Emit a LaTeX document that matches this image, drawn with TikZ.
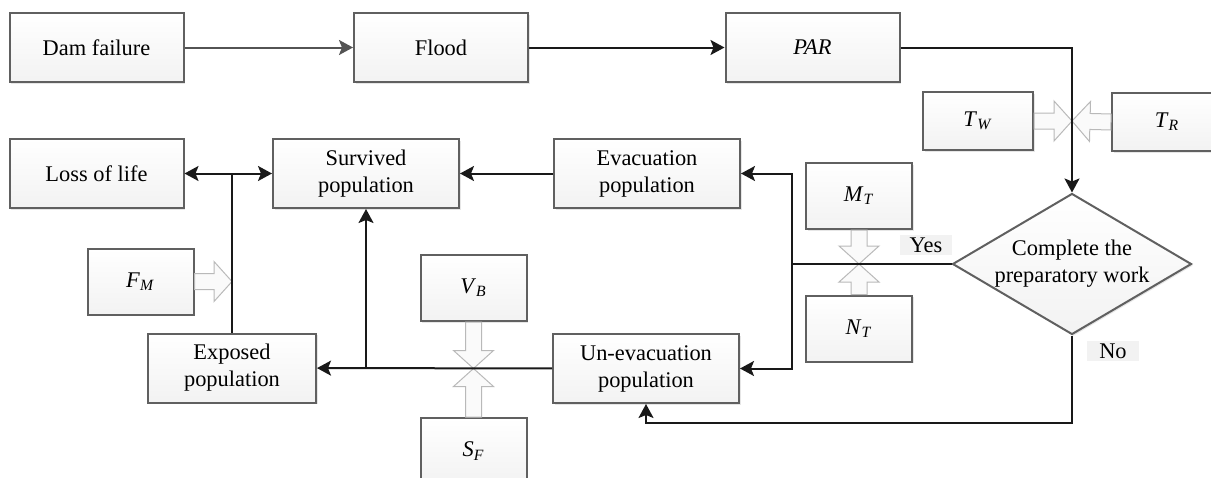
\documentclass[tikz,border=0pt]{standalone}
\usepackage{fontspec}
\setmainfont{Liberation Serif}
\usetikzlibrary{arrows.meta,shapes.geometric,shadows,calc}

\def\sym#1#2{\textit{#1}\textsubscript{\textit{#2}}}

\tikzset{
  box/.style={draw=gray!75!black, line width=1pt, top color=white, bottom color=gray!10,
    drop shadow={shadow xshift=0.8pt,shadow yshift=-0.8pt,opacity=0.2},
    align=center, inner sep=2pt, minimum width=87pt, minimum height=34.5pt,
    font=\fontsize{11.2}{13.5}\selectfont},
  widebox/.style={box, minimum width=93pt},
  smallbox/.style={box, minimum width=53pt, minimum height=33pt},
  decision/.style={box, diamond, aspect=1.7, inner sep=0pt,
    minimum width=239pt/2, minimum height=141pt/2},
  tag/.style={fill=gray!10, inner sep=1.5pt, minimum width=26pt, minimum height=10pt,
    font=\fontsize{11.2}{13.5}\selectfont},
  line/.style={line width=1pt, draw=black!90},
  link/.style={line, -{Stealth[length=7pt,width=7.5pt,inset=1.5pt]}},
  hollow/.style={draw=gray!55, fill=gray!4, line width=0.5pt, line join=miter}
}

% fat outlined arrow from #1 to #2
\newcommand{\hollowarrow}[2]{%
  \draw[hollow] let \p1=(#1), \p2=(#2), \n1={atan2(\y2-\y1,\x2-\x1)},
    \n2={veclen(\x2-\x1,\y2-\y1)}, \n3={\n2-9pt} in
    [shift={(\p1)}, rotate=\n1]
    (0pt,-4pt) -- (\n3,-4pt) -- (\n3,-10pt) -- (\n2,0pt)
    -- (\n3,10pt) -- (\n3,4pt) -- (0pt,4pt) -- cycle;}

\begin{document}
\begin{tikzpicture}[x=0.5pt,y=-0.5pt]
\useasboundingbox (0,0) rectangle (1211,477);
% top row
\node[box] (dam) at (96.5,47.5) {Dam failure};
\node[box] (flood) at (441,47.5) {Flood};
\node[box] (par) at (812.5,47.5) {\textit{PAR}};
\node[smallbox, minimum width=55pt, minimum height=29pt] (tw) at (978,121) {\sym{T}{W}};
\node[smallbox, minimum width=55pt, minimum height=29pt] (tr) at (1167,122) {\sym{T}{R}};
% decision
\node[decision] (dec) at (1072,264) {Complete the\\preparatory work};
\node[smallbox] (mt) at (859,196) {\sym{M}{T}};
\node[smallbox] (nt) at (859,328.5) {\sym{N}{T}};
\node[tag] (yes) at (926,245) {Yes};
\node[tag] (no) at (1113,351) {No};
% populations
\node[widebox] (evac) at (647,173.5) {Evacuation\\population};
\node[widebox] (surv) at (366,173.5) {Survived\\population};
\node[box] (loss) at (96.5,173.5) {Loss of life};
\node[widebox] (unev) at (646,368.5) {Un-evacuation\\population};
\node[widebox, minimum width=84pt] (exp) at (232,368) {Exposed\\population};
\node[smallbox] (fm) at (140.5,281.5) {\sym{F}{M}};
\node[smallbox] (vb) at (473.5,288) {\sym{V}{B}};
\node[smallbox] (sf) at (473.5,451) {\sym{S}{F}};

% junctions
\coordinate (tj) at (1072,121);
\coordinate (yj) at (792,264);
\coordinate (mj) at (859,264);
\coordinate (nj) at (1072,423);
\coordinate (sj) at (366,368.5);
\coordinate (vj) at (473.5,368.5);
\coordinate (lj) at (232,173.5);
\coordinate (fj) at (232,281.5);

% influence arrows
\hollowarrow{tw.east}{tj}
\hollowarrow{tr.west}{tj}
\hollowarrow{mt.south}{mj}
\hollowarrow{nt.north}{mj}
\hollowarrow{vb.south}{vj}
\hollowarrow{sf.north}{vj}
\hollowarrow{fm.east}{fj}

% flow
\draw[link, draw=gray!65!black] (dam) -- (flood);
\draw[link] (flood) -- (par);
\draw[link] (par.east) -| (dec.north);
\draw[line] (dec.west) -- (yj);
\draw[link] (yj) |- (evac.east);
\draw[link] (yj) |- (unev.east);
\draw[link] (dec.south) -- (nj) -| (unev.south);
\draw[link] (evac) -- (surv);
\draw[link] (unev) -- (exp);
\draw[link] (sj) -- (surv.south);
\draw[line] (exp.north) -- (lj);
\draw[link] (lj) -- (loss);
\draw[link] (lj) -- (surv);
\end{tikzpicture}
\end{document}
